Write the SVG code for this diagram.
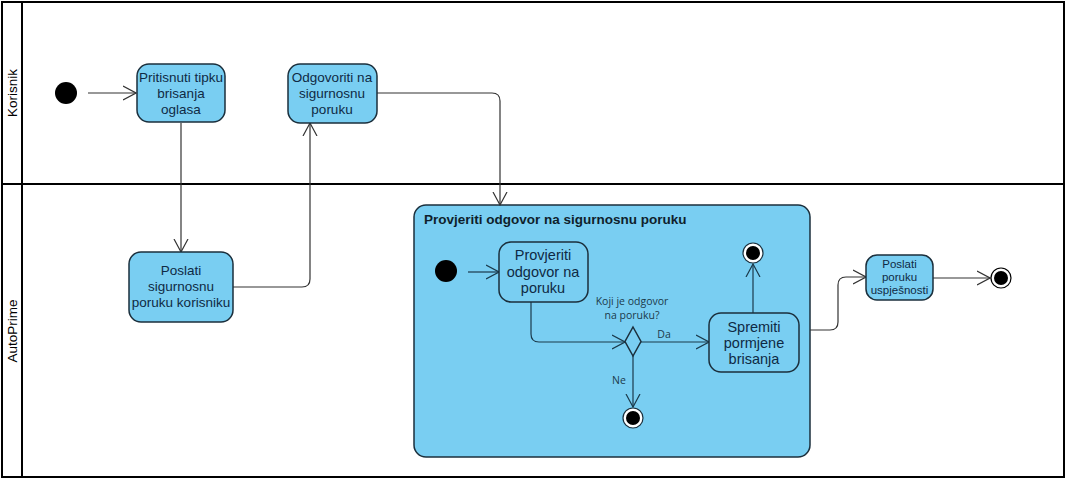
<svg xmlns="http://www.w3.org/2000/svg" width="1069" height="481" viewBox="0 0 1069 481">
<style>
.lane{fill:none;stroke:#000;stroke-width:2}
.lt{font-family:"Liberation Sans",Arial,sans-serif;font-size:13.5px;fill:#000}
.node{fill:#79CEF2;stroke:#1b2f3c;stroke-width:1.5}
.nt{font-family:"Liberation Sans",Arial,sans-serif;font-size:13.5px;fill:#0f2a44;text-anchor:middle}
.nt2{font-family:"Liberation Sans",Arial,sans-serif;font-size:14.5px;fill:#0f2a44;text-anchor:middle}
.ns{font-family:"Liberation Sans",Arial,sans-serif;font-size:11.5px;fill:#0f2a44;text-anchor:middle}
.gl{font-family:"Open Sans","DejaVu Sans",sans-serif;font-size:10.5px;fill:#1b3a4b;text-anchor:middle}
.c{fill:none;stroke:#333;stroke-width:1.2;marker-end:url(#a)}
.ci{fill:none;stroke:#1b3a4b;stroke-width:1.2;marker-end:url(#ai)}
</style>
<defs>
<marker id="a" markerWidth="14" markerHeight="16" refX="13" refY="8" orient="auto" markerUnits="userSpaceOnUse"><path d="M0,1 L13,8 L0,15" fill="none" stroke="#333" stroke-width="1.2"/></marker>
<marker id="ai" markerWidth="14" markerHeight="16" refX="13" refY="8" orient="auto" markerUnits="userSpaceOnUse"><path d="M0,1 L13,8 L0,15" fill="none" stroke="#1b3a4b" stroke-width="1.2"/></marker>
</defs>
<rect x="0" y="0" width="1069" height="481" fill="#fff"/>
<g id="lanes">
<rect class="lane" x="2" y="2" width="1062" height="475"/>
<line class="lane" x1="22" y1="2" x2="22" y2="477"/>
<line class="lane" x1="2" y1="184" x2="1064" y2="184"/>
<text class="lt" transform="translate(17,93) rotate(-90)" text-anchor="middle">Korisnik</text>
<text class="lt" transform="translate(17,331) rotate(-90)" text-anchor="middle">AutoPrime</text>
</g>
<g id="container">
<rect x="414" y="205" width="396" height="252" rx="12" fill="#79CEF2" stroke="#1b2f3c" stroke-width="1.5"/>
<text x="424" y="224" font-family="Liberation Sans,Arial,sans-serif" font-size="13.5" font-weight="bold" fill="#0f1f2c">Provjeriti odgovor na sigurnosnu poruku</text>
</g>
<g id="connectors">
<path class="c" d="M88,93 H136"/>
<path class="c" d="M181,123 V252"/>
<path class="c" d="M233,287 H302 Q310,287 310,279 V123"/>
<path class="c" d="M377,93 H492 Q500,93 500,101 V205"/>
<path class="ci" d="M468,272 H499"/>
<path class="ci" d="M531,302 V334 Q531,342 539,342 H625"/>
<path class="ci" d="M641,342 H709"/>
<path class="ci" d="M633,356 V407"/>
<path class="ci" d="M753,313 V264"/>
<path class="c" d="M810,330 H830 Q838,330 838,322 V285 Q838,277 846,277 H866"/>
<path class="c" d="M933,278 H990"/>
<text class="gl" x="632" y="305">Koji je odgovor</text>
<text class="gl" x="632" y="319">na poruku?</text>
<text class="gl" x="664" y="338">Da</text>
<text class="gl" x="619" y="384">Ne</text>
</g>
<g id="start1"><circle cx="66" cy="93" r="11" fill="#000"/></g>
<g id="n1"><rect class="node" x="137" y="64" width="88" height="58" rx="12"/>
<text class="nt" x="181" y="82">Pritisnuti tipku</text><text class="nt" x="181" y="98">brisanja</text><text class="nt" x="181" y="114">oglasa</text></g>
<g id="n2"><rect class="node" x="288" y="64" width="89" height="59" rx="12"/>
<text class="nt" x="332" y="82">Odgovoriti na</text><text class="nt" x="332" y="98">sigurnosnu</text><text class="nt" x="332" y="114">poruku</text></g>
<g id="n3"><rect class="node" x="129" y="252" width="104" height="70" rx="12"/>
<text class="nt" x="181" y="275">Poslati</text><text class="nt" x="181" y="291">sigurnosnu</text><text class="nt" x="181" y="307">poruku korisniku</text></g>
<g id="start2"><circle cx="446" cy="271" r="11" fill="#000"/></g>
<g id="n4"><rect class="node" x="499" y="242" width="89" height="60" rx="12"/>
<text class="nt2" x="543" y="260">Provjeriti</text><text class="nt2" x="543" y="277">odgovor na</text><text class="nt2" x="543" y="293">poruku</text></g>
<g id="decision"><polygon points="633,327 641,341.5 633,356 625,341.5" fill="#79CEF2" stroke="#1b2f3c" stroke-width="1.5"/></g>
<g id="end1"><circle cx="633" cy="418" r="10" fill="#fff" stroke="#1b2f3c" stroke-width="1.2"/><circle cx="633" cy="418" r="7" fill="#000"/></g>
<g id="n5"><rect class="node" x="709" y="313" width="90" height="59" rx="12"/>
<text class="nt2" x="754" y="332">Spremiti</text><text class="nt2" x="754" y="348">pormjene</text><text class="nt2" x="754" y="364">brisanja</text></g>
<g id="end2"><circle cx="753" cy="253" r="10" fill="#fff" stroke="#1b2f3c" stroke-width="1.2"/><circle cx="753" cy="253" r="7" fill="#000"/></g>
<g id="n6"><rect class="node" x="866" y="255" width="67" height="45" rx="11"/>
<text class="ns" x="899.5" y="268">Poslati</text><text class="ns" x="899.5" y="281">poruku</text><text class="ns" x="899.5" y="294">uspješnosti</text></g>
<g id="end3"><circle cx="1001" cy="278" r="10" fill="#fff" stroke="#000" stroke-width="1.2"/><circle cx="1001" cy="278" r="7" fill="#000"/></g>
</svg>
